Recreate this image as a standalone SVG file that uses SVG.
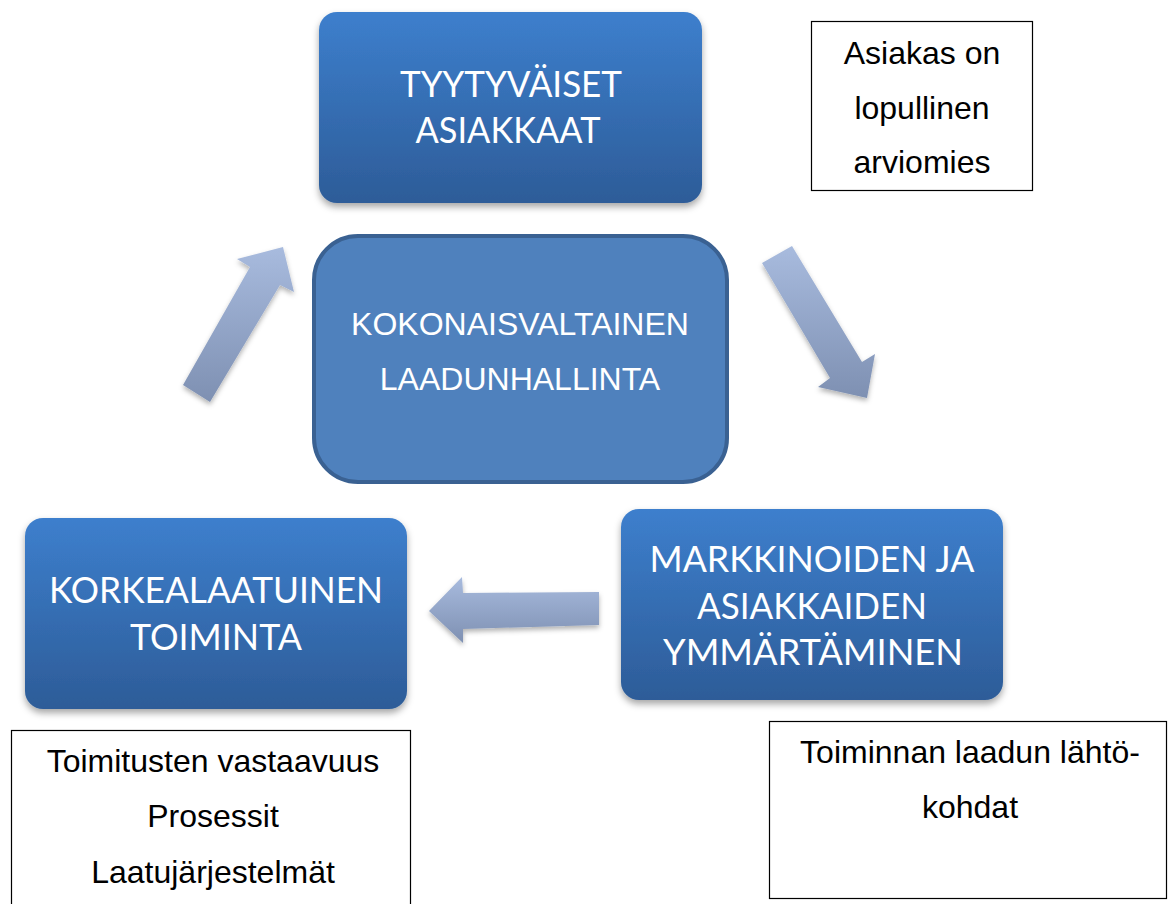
<svg xmlns="http://www.w3.org/2000/svg" width="1173" height="904" viewBox="0 0 1173 904">
<style>
.box{filter:url(#sh)}
.bt{font-family:Lato,"Open Sans",sans-serif;font-size:37px;fill:#fff;text-anchor:middle}
.ct{font-family:"Liberation Sans",Arial,sans-serif;font-size:32px;fill:#fff;text-anchor:middle}
.nt{font-family:"Liberation Sans",Arial,sans-serif;font-size:32px;fill:#000;text-anchor:middle}
.note{fill:#fff;stroke:#000;stroke-width:1.2}
.arr{fill:url(#ga);filter:url(#sha)}
</style>
<defs>
<linearGradient id="gb" x1="0" y1="0" x2="0" y2="1">
<stop offset="0" stop-color="#3d7fcd"/>
<stop offset="1" stop-color="#2d5c98"/>
</linearGradient>
<linearGradient id="ga" x1="0" y1="0" x2="0" y2="1">
<stop offset="0" stop-color="#a8bbde"/>
<stop offset="1" stop-color="#7e90b2"/>
</linearGradient>
<filter id="sh" x="-10%" y="-10%" width="120%" height="130%">
<feDropShadow dx="0" dy="4" stdDeviation="3.5" flood-color="#000" flood-opacity="0.35"/>
</filter>
<filter id="sha" x="-20%" y="-20%" width="140%" height="140%">
<feDropShadow dx="0" dy="3" stdDeviation="2.5" flood-color="#000" flood-opacity="0.3"/>
</filter>
</defs>
<rect width="1173" height="904" fill="#fff"/>

<g id="connectors">
<polygon class="arr" points="283,247 294,292 280,285 210,402 183,385 250,267 237,259"/>
<polygon class="arr" points="762,263 792,246 862,362 875,354 867,398 818,387 830,378"/>
<polygon class="arr" points="429,611 462,577 463,593 599,592 599,625 463,629 463,643"/>
</g>

<g id="node-tyytyvaiset">
<rect class="box" x="319" y="12" width="383" height="191" rx="18" fill="url(#gb)"/>
<text class="bt" x="511" y="97" textLength="222" lengthAdjust="spacingAndGlyphs">TYYTYVÄISET</text>
<text class="bt" x="508" y="143" textLength="185" lengthAdjust="spacingAndGlyphs">ASIAKKAAT</text>
</g>

<g id="node-asiakas">
<rect class="note" x="811.5" y="21.5" width="221" height="169"/>
<text class="nt" x="922" y="64">Asiakas on</text>
<text class="nt" x="922" y="119">lopullinen</text>
<text class="nt" x="922" y="173">arviomies</text>
</g>

<g id="node-kokonaisvaltainen">
<rect x="314" y="236" width="413" height="246" rx="44" fill="#4f81bd" stroke="#3a6192" stroke-width="4"/>
<text class="ct" x="520" y="335">KOKONAISVALTAINEN</text>
<text class="ct" x="520" y="390">LAADUNHALLINTA</text>
</g>

<g id="node-markkinoiden">
<rect class="box" x="621" y="509" width="382" height="191" rx="18" fill="url(#gb)"/>
<text class="bt" x="812" y="572" textLength="325" lengthAdjust="spacingAndGlyphs">MARKKINOIDEN JA</text>
<text class="bt" x="812" y="619" textLength="230" lengthAdjust="spacingAndGlyphs">ASIAKKAIDEN</text>
<text class="bt" x="813" y="665" textLength="300" lengthAdjust="spacingAndGlyphs">YMMÄRTÄMINEN</text>
</g>

<g id="node-korkealaatuinen">
<rect class="box" x="25" y="518" width="382" height="191" rx="18" fill="url(#gb)"/>
<text class="bt" x="216" y="603" textLength="334" lengthAdjust="spacingAndGlyphs">KORKEALAATUINEN</text>
<text class="bt" x="216" y="650" textLength="172" lengthAdjust="spacingAndGlyphs">TOIMINTA</text>
</g>

<g id="node-toimitusten">
<rect class="note" x="11.5" y="730.5" width="399" height="190"/>
<text class="nt" x="213" y="772">Toimitusten vastaavuus</text>
<text class="nt" x="213" y="827">Prosessit</text>
<text class="nt" x="213" y="883">Laatujärjestelmät</text>
</g>

<g id="node-toiminnan">
<rect class="note" x="769.5" y="721.5" width="397" height="177"/>
<text class="nt" x="970" y="763">Toiminnan laadun lähtö-</text>
<text class="nt" x="970" y="818">kohdat</text>
</g>
</svg>
